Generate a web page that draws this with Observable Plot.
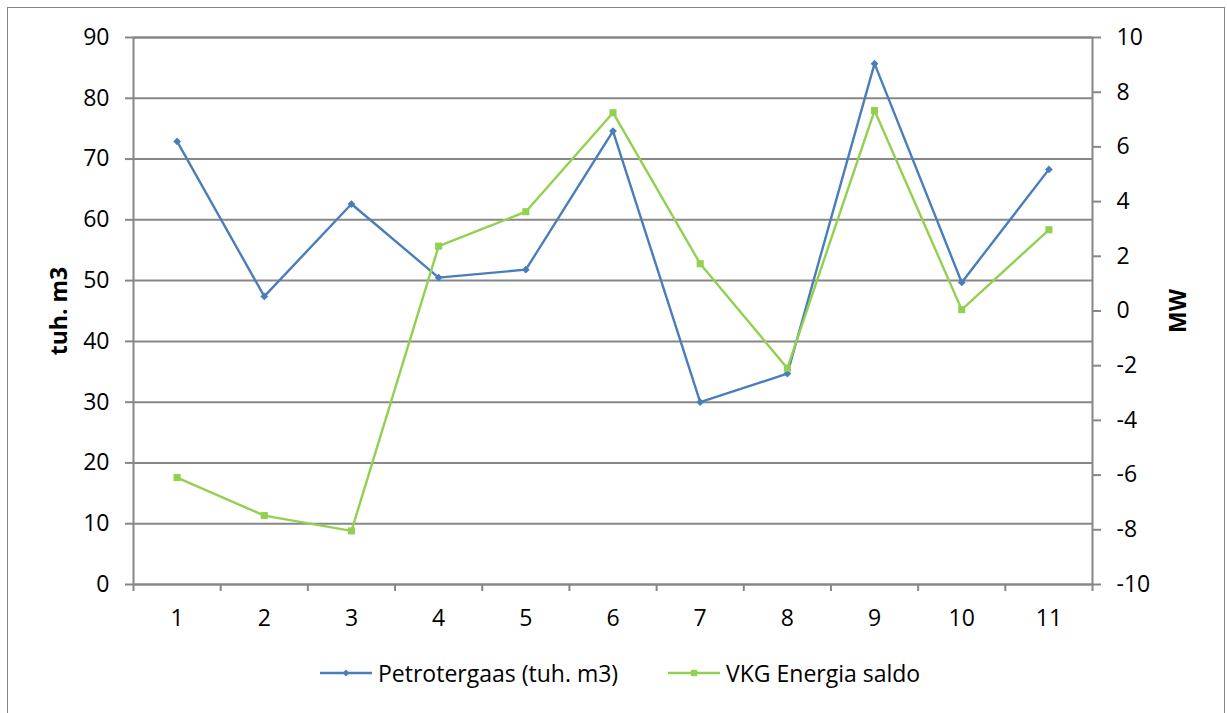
<!DOCTYPE html>
<html>
<head>
<meta charset="utf-8">
<script src="https://cdn.jsdelivr.net/npm/d3@7"></script>
<script src="https://cdn.jsdelivr.net/npm/@observablehq/plot@0.6"></script>
<style>
  html, body { margin: 0; padding: 0; background: #fff; }
  body { width: 1227px; height: 713px; position: relative; overflow: hidden; font-family: "Open Sans", Lato, sans-serif; }
  #frame { position: absolute; left: 7px; top: 7px; width: 1218px; height: 760px; border: 1px solid #868686; box-sizing: border-box; }
  #chart { position: absolute; left: 0; top: 0; }
  #legend { position: absolute; left: 0; top: 656px; width: 1227px; height: 34px; font-size: 23px; color: #000; }
  .item { position: absolute; top: 0; display: flex; align-items: center; height: 34px; white-space: nowrap; }
  .item svg { margin-right: 6px; }
</style>
</head>
<body>
<div id="frame"></div>
<div id="chart"></div>
<div id="legend"></div>
<script>
// Months 1..11
const months = [1, 2, 3, 4, 5, 6, 7, 8, 9, 10, 11];
// Petrotergaas, thousand m3 (left axis)
const petro = [72.9, 47.4, 62.6, 50.5, 51.8, 74.6, 30.0, 34.7, 85.7, 49.7, 68.3];
// VKG Energia saldo, MW (right axis)
const vkg = [-6.09, -7.48, -8.04, 2.37, 3.63, 7.25, 1.73, -2.09, 7.33, 0.05, 2.97];

const leftTicks = [0, 10, 20, 30, 40, 50, 60, 70, 80, 90];
const rightTicks = [-10, -8, -6, -4, -2, 0, 2, 4, 6, 8, 10];
const bandEdges = [0.5, 1.5, 2.5, 3.5, 4.5, 5.5, 6.5, 7.5, 8.5, 9.5, 10.5, 11.5];

const series = [
  {name: "Petrotergaas (tuh. m3)", color: "#4a7ebb", symbol: "diamond2", left: 320},
  {name: "VKG Energia saldo", color: "#92d050", symbol: "square", left: 668}
];

const rows = months.map((m, i) => ({m, petro: petro[i], vkg: vkg[i]}));

// MW values share the left-hand plotting range
const mw = d3.scaleLinear().domain([-10, 10]).range([0, 90]);

const grid = "#878787";
const fontFamily = "'Open Sans', Lato, sans-serif";

const chart = Plot.plot({
  width: 1227,
  height: 640,
  marginLeft: 133,
  marginRight: 135,
  marginTop: 37,
  marginBottom: 56,
  style: {fontFamily, fontSize: "23px", color: "#000", background: "transparent", overflow: "visible"},
  x: {type: "linear", domain: [0.5, 11.5], axis: null},
  y: {domain: [0, 90], axis: null},
  marks: [
    Plot.ruleY(leftTicks, {stroke: grid, strokeWidth: 2}),
    Plot.frame({stroke: grid, strokeWidth: 2}),
    Plot.axisY(leftTicks, {anchor: "left", tickSize: 8, tickPadding: 16, stroke: grid, strokeWidth: 2, fill: "#000", label: null}),
    Plot.axisY(rightTicks.map(mw), {anchor: "right", tickSize: 8, tickPadding: 16, stroke: grid, strokeWidth: 2, fill: "#000", label: null,
      tickFormat: v => String(Math.round(mw.invert(v)))}),
    Plot.axisX(bandEdges, {anchor: "bottom", tickSize: 7, stroke: grid, strokeWidth: 2, tickFormat: () => "", label: null}),
    Plot.axisX(months, {anchor: "bottom", tickSize: 0, tickPadding: 25, fill: "#000", label: null}),
    Plot.text(["tuh. m3"], {frameAnchor: "left", textAnchor: "middle", dx: -74, rotate: -90, fontWeight: "bold", fontSize: 23, fill: "#000"}),
    Plot.text(["MW"], {frameAnchor: "right", textAnchor: "middle", dx: 86, rotate: -90, fontWeight: "bold", fontSize: 23, fill: "#000"}),
    Plot.line(rows, {x: "m", y: "petro", stroke: series[0].color, strokeWidth: 2.4}),
    Plot.dot(rows, {x: "m", y: "petro", symbol: series[0].symbol, r: 3.5, fill: series[0].color, stroke: "none"}),
    Plot.line(rows, {x: "m", y: d => mw(d.vkg), stroke: series[1].color, strokeWidth: 2.4}),
    Plot.dot(rows, {x: "m", y: d => mw(d.vkg), symbol: series[1].symbol, r: 4, fill: series[1].color, stroke: "none"})
  ]
});
document.getElementById("chart").appendChild(chart);

// Legend below the chart
const legend = d3.select("#legend");
series.forEach(s => {
  const item = legend.append("div").attr("class", "item").style("left", s.left + "px");
  const svg = item.append("svg").attr("width", 52).attr("height", 14);
  svg.append("line").attr("x1", 0).attr("x2", 52).attr("y1", 7).attr("y2", 7)
    .attr("stroke", s.color).attr("stroke-width", 2.4);
  svg.append("path").attr("transform", "translate(26,7)")
    .attr("d", d3.symbol(s.symbol === "square" ? d3.symbolSquare : d3.symbolDiamond2, s.symbol === "square" ? 40 : 30)())
    .attr("fill", s.color);
  item.append("span").text(s.name);
});
</script>
</body>
</html>
